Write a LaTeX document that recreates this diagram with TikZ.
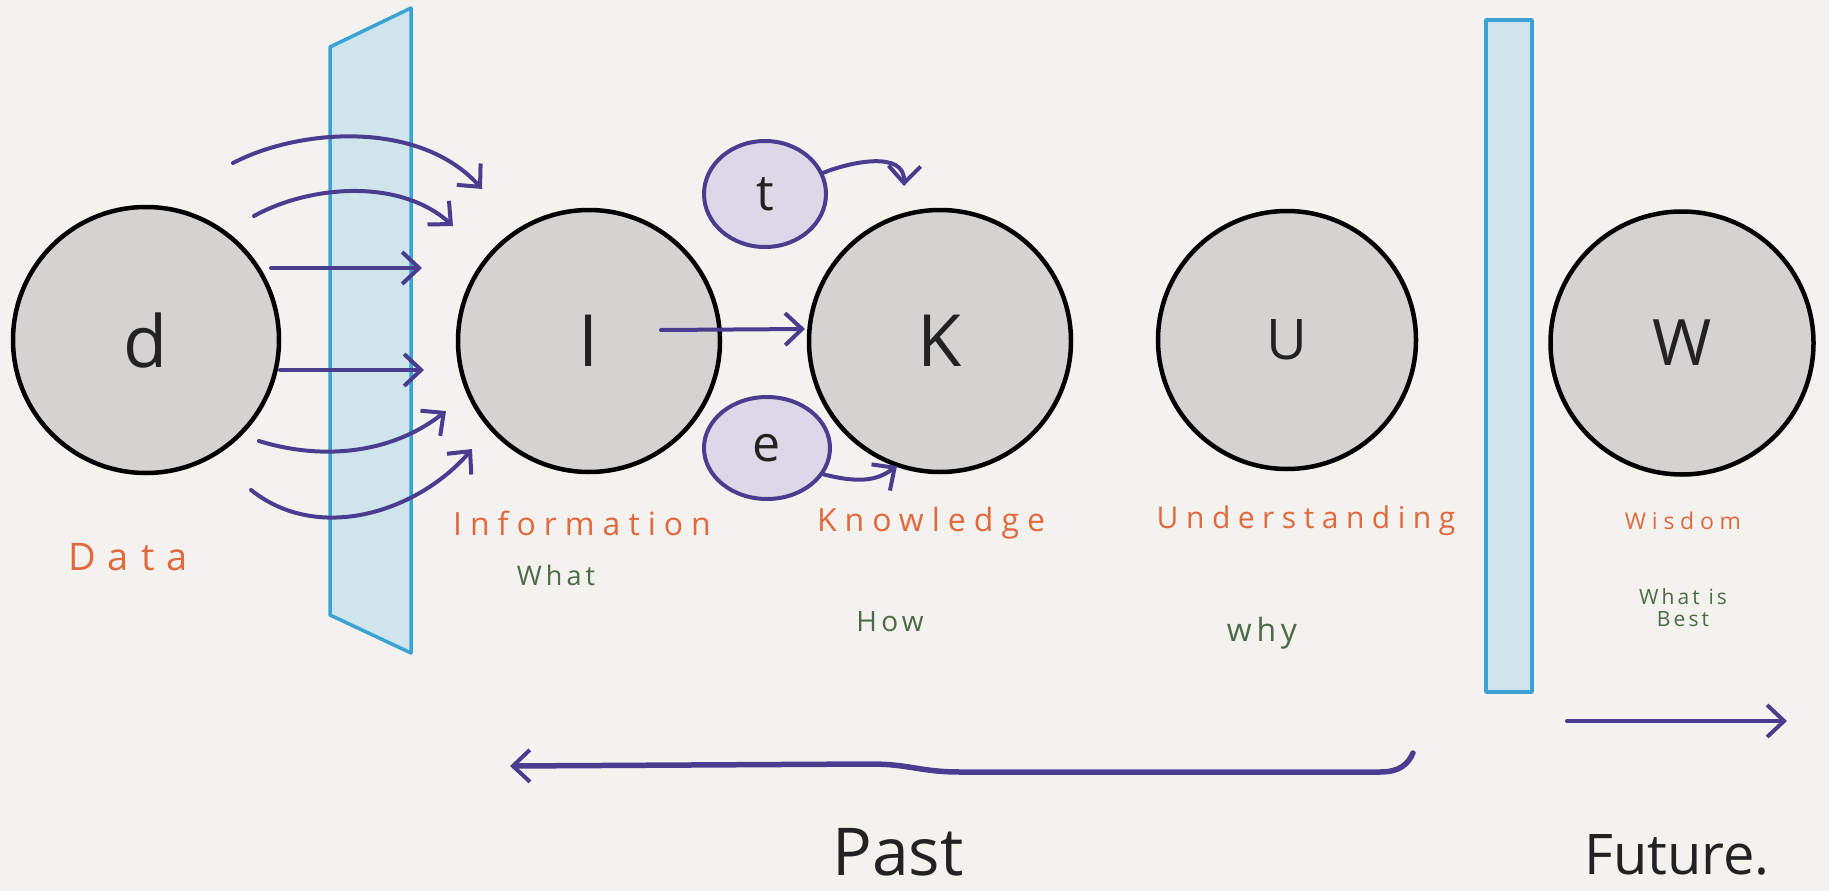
\documentclass[tikz,border=0pt]{standalone}
\usepackage{fontspec}
\setmainfont{Open Sans}
\usetikzlibrary{arrows.meta,shapes.geometric}
\definecolor{bgc}{HTML}{F4F2EF}
\definecolor{circgray}{HTML}{D5D3D2}
\definecolor{smallfill}{HTML}{DCD8E7}
\definecolor{purp}{HTML}{4A3D8F}
\definecolor{filterfill}{HTML}{CFE4EB}
\definecolor{filterdraw}{HTML}{3BA3D3}
\definecolor{orng}{HTML}{E0693E}
\definecolor{grn}{HTML}{4E6A48}
\definecolor{ink}{HTML}{222222}
\begin{document}
\begin{tikzpicture}[x=1pt,y=-1pt,
  big/.style={circle, draw=black, line width=4.5pt, fill=circgray, minimum size=#1, inner sep=0pt, text=ink},
  big/.default=262pt,
  smallc/.style={ellipse, draw=purp, line width=4pt, fill=smallfill, minimum width=122pt, minimum height=106pt, inner sep=0pt, text=ink, font=\fontsize{50}{56}\selectfont},
  flow/.style={draw=purp, line width=4pt, line cap=round, -{Straight Barb[length=17pt,width=32pt,line width=4pt]}},
  lab/.style={text=orng, font=\fontsize{#1}{#1}\selectfont\addfontfeature{LetterSpace=25}},
  sub/.style={text=grn, align=center, font=\fontsize{#1}{#1}\selectfont\addfontfeature{LetterSpace=15}},
  filt/.style={draw=filterdraw, line width=3.5pt, fill=filterfill, line join=round},
  letter/.style={font=\fontsize{#1}{#1}\selectfont}
]
\useasboundingbox (0,0) rectangle (1829,891);
\fill[bgc] (0,0) rectangle (1829,891);

% filters
\draw[filt] (330,47) -- (411,8) -- (411,653) -- (330,615) -- cycle;
\draw[filt] (1486,20) rectangle (1532,692);

% big circles
\node[big=266pt, letter=72] (d) at (146,340) {d};
\node[big=262pt, letter=72] (I) at (589,341) {I};
\node[big=262pt, letter=72] (K) at (940,341) {K};
\node[big=258pt, letter=56] (U) at (1287,340) {U};
\node[big=263pt, letter=64] (W) at (1682,343) {W};

% small circles
\node[smallc] (t) at (765,194) {t};
\node[smallc, minimum width=126pt, minimum height=102pt] (e) at (767,448) {e};

% data -> information arrows through filter
\coordinate (a1s) at (233,163); \coordinate (a1e) at (482,189);
\coordinate (a2s) at (254,216); \coordinate (a2e) at (453,226);
\coordinate (a3s) at (271,268); \coordinate (a3e) at (422,268);
\coordinate (a4s) at (280,370); \coordinate (a4e) at (424,370);
\coordinate (a5s) at (259,441); \coordinate (a5e) at (446,411);
\coordinate (a6s) at (251,490); \coordinate (a6e) at (472,449);
\draw[flow] (a1s) .. controls (300,128) and (420,120) .. (a1e);
\draw[flow] (a2s) .. controls (310,185) and (400,178) .. (a2e);
\draw[flow] (a3s) -- (a3e);
\draw[flow] (a4s) -- (a4e);
\draw[flow] (a5s) .. controls (320,460) and (390,455) .. (a5e);
\draw[flow] (a6s) .. controls (320,545) and (420,510) .. (a6e);

% information -> knowledge
\coordinate (ik) at (661,330);
\coordinate (ike) at (805,329);
\draw[flow] (ik) -- (ike);

% t and e arrows
\coordinate (te) at (904,186);
\draw[flow] (t.20) .. controls (850,162) and (905,150) .. (te);
\coordinate (ee) at (897,466);
\draw[flow] (e.-25) .. controls (865,485) and (880,478) .. (ee);

% past / future arrows
\coordinate (pastR) at (1413,753);
\coordinate (pastL) at (510,766);
\draw[flow, line width=5.5pt] (pastR) .. controls (1408,764) and (1400,772) .. (1380,772)
   -- (960,772) .. controls (920,772) and (910,764) .. (870,764) -- (pastL);
\coordinate (futL) at (1567,721);
\coordinate (futR) at (1787,721);
\draw[flow] (futL) -- (futR);

% labels
\node[text=orng, font=\fontsize{38}{38}\selectfont\addfontfeature{LetterSpace=32}] (ldata) at (128,557) {Data};
\node[lab=32] (linfo) at (582,523) {Information};
\node[lab=32] (lknow) at (931,523) {Knowledge};
\node[lab=30] (lund) at (1306,521) {Understanding};
\node[lab=23] (lwis) at (1683,521) {Wisdom};
\node[sub=27] (swhat) at (556,575) {What};
\node[sub=28] (show) at (890,622) {How};
\node[sub=32] (swhy) at (1262,633) {why};
\node[sub=21, align=center] (swib) at (1683,608) {What is\\[1pt]Best};
\node[text=ink, font=\fontsize{66}{70}\selectfont] (past) at (898,852) {Past};
\node[text=ink, font=\fontsize{56}{60}\selectfont] (future) at (1677,855) {Future.};
\end{tikzpicture}
\end{document}
